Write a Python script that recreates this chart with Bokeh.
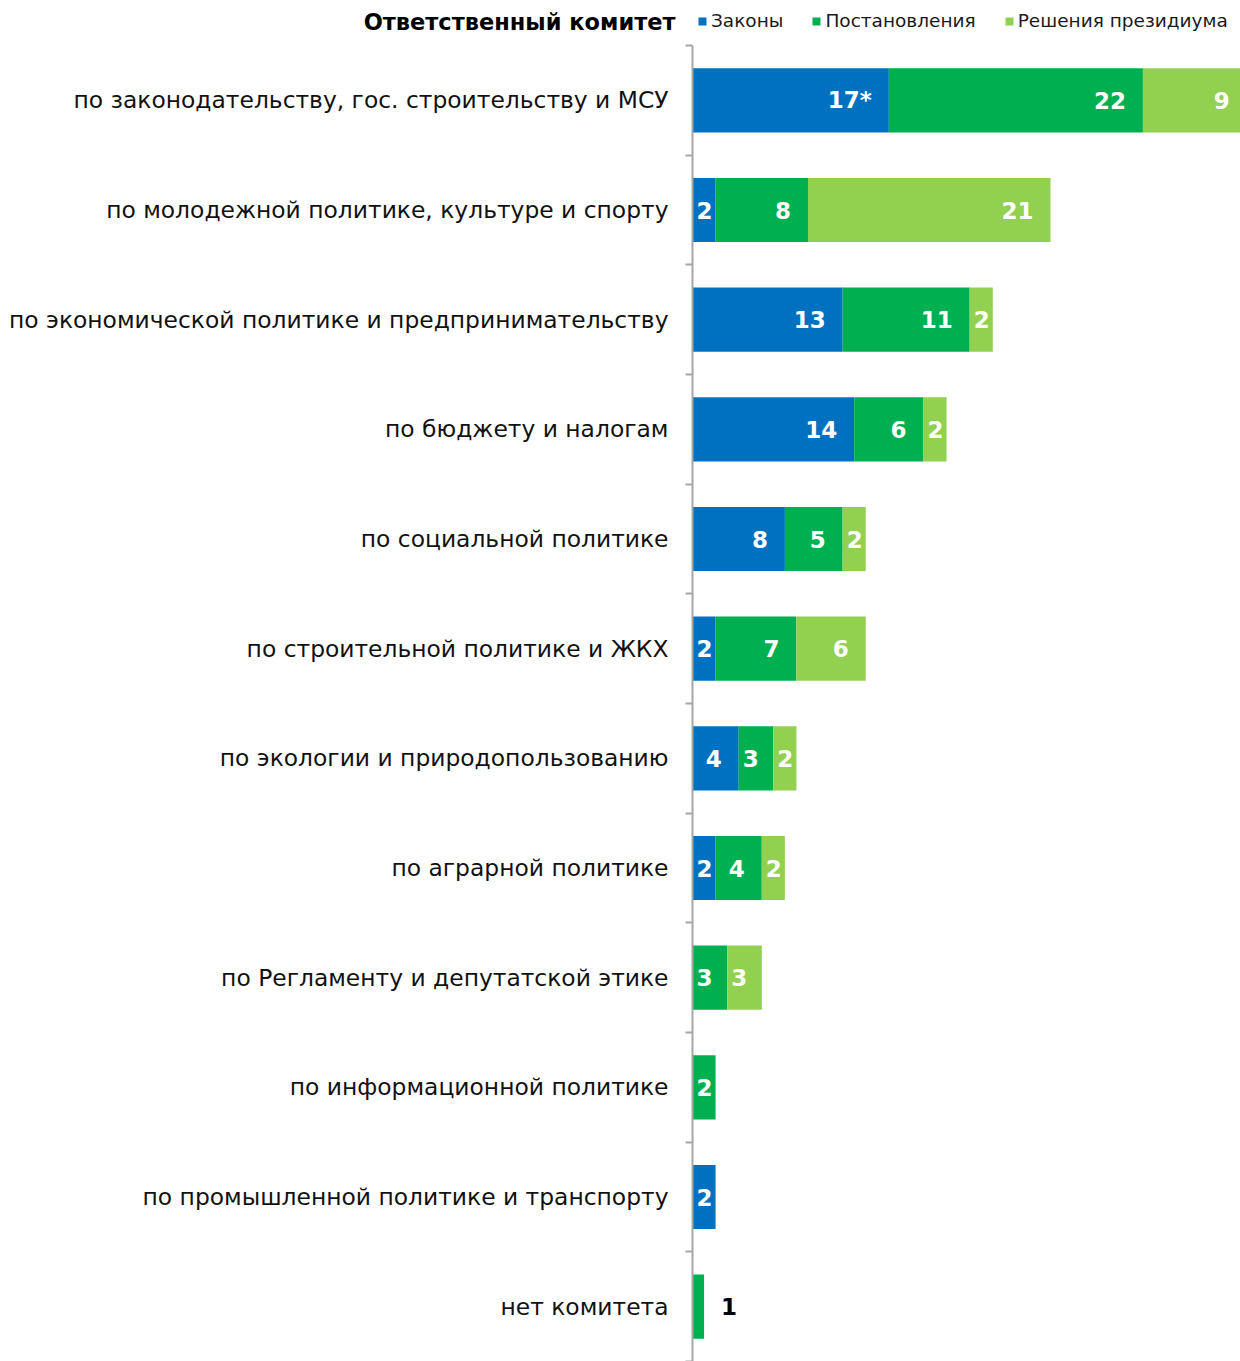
from bokeh.plotting import figure
from bokeh.models import ColumnDataSource, Range1d, FixedTicker, Legend, LegendItem
from bokeh.core.properties import value
from bokeh.embed import file_html
from bokeh.resources import INLINE

categories = [
    "по законодательству, гос. строительству и МСУ",
    "по молодежной политике, культуре и спорту",
    "по экономической политике и предпринимательству",
    "по бюджету и налогам",
    "по социальной политике",
    "по строительной политике и ЖКХ",
    "по экологии и природопользованию",
    "по аграрной политике",
    "по Регламенту и депутатской этике",
    "по информационной политике",
    "по промышленной политике и транспорту",
    "нет комитета",
]
zakony = [17, 2, 13, 14, 8, 2, 4, 2, 0, 0, 2, 0]
postanovleniya = [22, 8, 11, 6, 5, 7, 3, 4, 3, 2, 0, 1]
resheniya = [9, 21, 2, 2, 2, 6, 2, 2, 3, 0, 0, 0]
label_suffix_zakony = ["*", "", "", "", "", "", "", "", "", "", "", ""]
series_names = ["Законы", "Постановления", "Решения президиума"]
colors = ["#0070C0", "#00B050", "#92D050"]
legend_title = "Ответственный комитет"

FONT = "DejaVu Sans"
W, H = 1240, 1361
HEAD_H = 45
AXIS_X = 692
X_MAX = 47.45
PX = (W - AXIS_X) / X_MAX          # pixels per unit
n = len(categories)
ROW = (H - HEAD_H) / n             # pixels per category row

p = figure(width=W, height=H,
           x_range=Range1d(-AXIS_X / PX, X_MAX),
           y_range=Range1d(0, n + HEAD_H / ROW),
           output_backend="svg", toolbar_location=None,
           x_axis_location=None,
           min_border_left=0, min_border_top=0,
           min_border_right=0, min_border_bottom=0)
p.grid.visible = False
p.outline_line_color = None
p.background_fill_color = "white"
p.border_fill_color = "white"

ys = [n - i - 0.5 for i in range(n)]
series = [zakony, postanovleniya, resheniya]
suffixes = [label_suffix_zakony, [""] * n, [""] * n]

renderers = []
in_x, in_y, in_t, in_o = [], [], [], []
out_x, out_y, out_t, out_o = [], [], [], []
left = [0] * n
DIG = 16.0
for s, vals in enumerate(series):
    right = [l + v for l, v in zip(left, vals)]
    src = ColumnDataSource(dict(y=ys, left=left, right=right))
    r = p.hbar(y="y", left="left", right="right", height=0.585,
               fill_color=colors[s], line_color=None, source=src)
    renderers.append(r)
    for i, v in enumerate(vals):
        if v == 0:
            continue
        txt = f"{v}{suffixes[s][i]}"
        tw = DIG * len(str(v)) + (12.0 if suffixes[s][i] else 0)
        w = v * PX
        if w >= tw + 6:
            pad = min(17.0, w - tw - 4)
            in_x.append(right[i]); in_y.append(ys[i]); in_t.append(txt); in_o.append(-pad)
        else:
            out_x.append(right[i]); out_y.append(ys[i]); out_t.append(txt); out_o.append(17)
    left = right

p.text(x="x", y="y", text="t", x_offset="o",
       source=ColumnDataSource(dict(x=in_x, y=in_y, t=in_t, o=in_o)),
       text_align="right", text_baseline="middle", text_color="white",
       text_font=value(FONT), text_font_style="bold", text_font_size="23px")
p.text(x="x", y="y", text="t", x_offset="o",
       source=ColumnDataSource(dict(x=out_x, y=out_y, t=out_t, o=out_o)),
       text_align="left", text_baseline="middle", text_color="black",
       text_font=value(FONT), text_font_style="bold", text_font_size="23px")

# category axis drawn at x = 0
ax = p.yaxis[0]
ax.fixed_location = 0
ax.bounds = (0, n)
ax.ticker = FixedTicker(ticks=ys, minor_ticks=list(range(0, n + 1)))
ax.major_label_overrides = {y: c for y, c in zip(ys, categories)}
ax.major_tick_line_color = None
ax.major_tick_out = 0
ax.major_tick_in = 0
ax.minor_tick_out = 7
ax.minor_tick_in = 0
ax.minor_tick_line_color = "#A6A6A6"
ax.minor_tick_line_width = 2
ax.axis_line_color = "#A6A6A6"
ax.axis_line_width = 2
ax.major_label_standoff = 17
ax.major_label_text_font = FONT
ax.major_label_text_font_size = "23.4px"
ax.major_label_text_color = "#111111"

# legend row at the top
legend = Legend(items=[LegendItem(label=nm, renderers=[r]) for nm, r in zip(series_names, renderers)],
                orientation="horizontal", location=(AXIS_X + 5, H - 31),
                glyph_width=10, glyph_height=10, label_standoff=4, spacing=28,
                padding=0, margin=0, border_line_color=None, background_fill_alpha=0,
                label_text_font=FONT, label_text_font_size="18.5px", label_text_color="#1a1a1a")
p.add_layout(legend)
p.text(x=[-17 / PX], y=[n + 24 / ROW], text=[legend_title],
       text_align="right", text_baseline="middle", text_color="black",
       text_font=value(FONT), text_font_style="bold", text_font_size="22.5px")

open("out.html", "w").write(file_html(p, INLINE))
